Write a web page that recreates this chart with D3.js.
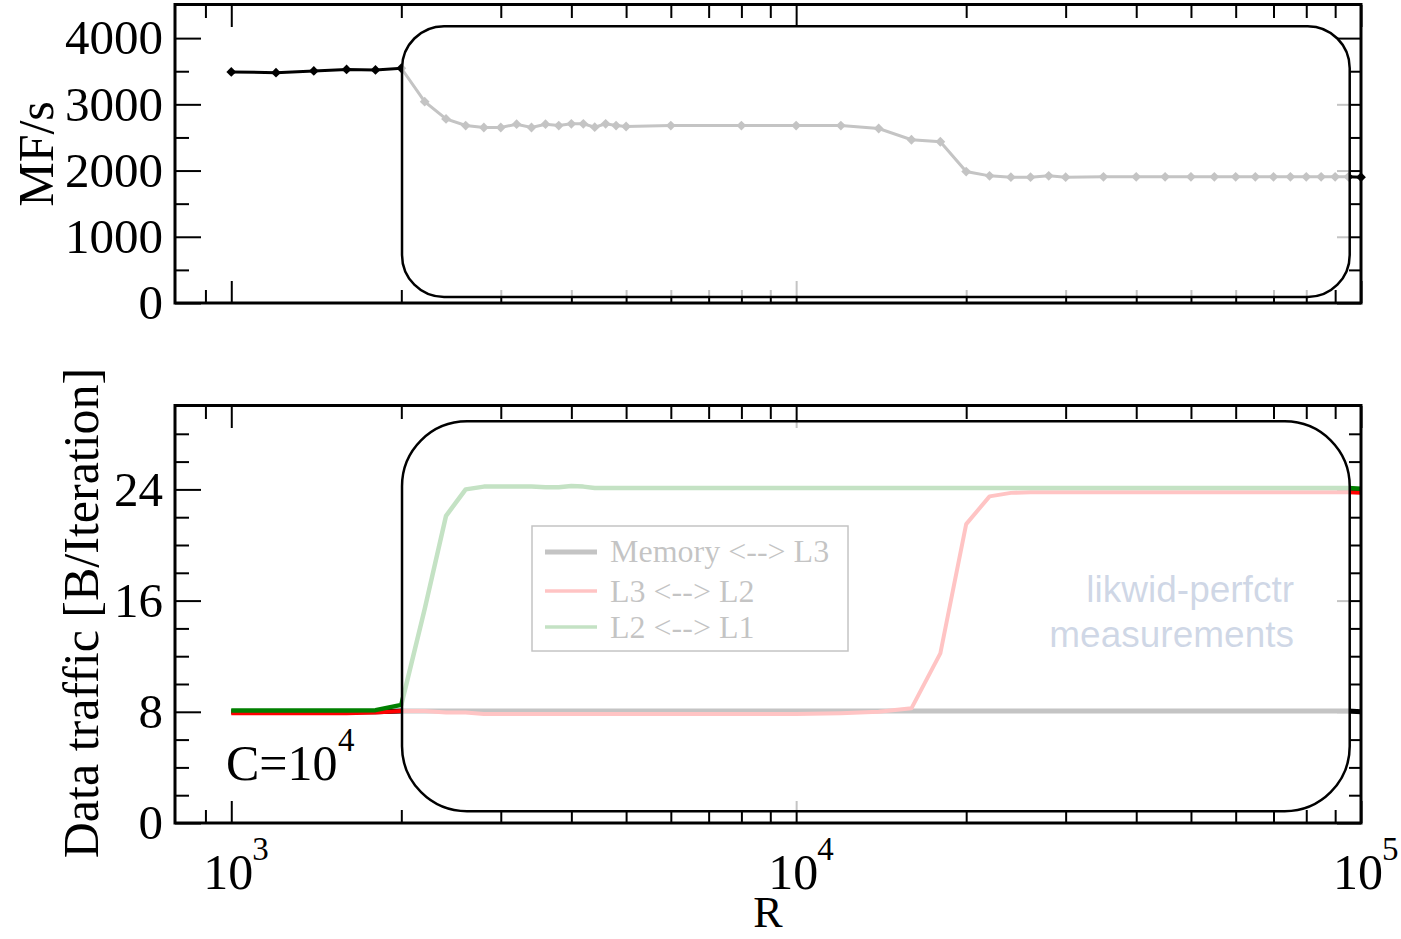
<!DOCTYPE html>
<html>
<head>
<meta charset="utf-8">
<script src="https://cdn.jsdelivr.net/npm/d3@7"></script>
<style>
  html, body { margin: 0; padding: 0; background: #fff; }
  svg { display: block; }
  text { font-family: "Liberation Serif", "Times New Roman", serif; }
</style>
</head>
<body>
<svg id="chart" width="1401" height="939"></svg>
<script>
// Problem size R (outer loop length), sampled points
const R = [1000, 1200, 1400, 1600, 1800, 2000, 2200, 2400, 2600, 2800, 3000, 3200,
  3400, 3600, 3800, 4000, 4200, 4400, 4600, 4800, 5000, 6000, 8000, 10000, 12000,
  14000, 16000, 18000, 20000, 22000, 24000, 26000, 28000, 30000, 35000, 40000, 45000,
  50000, 55000, 60000, 65000, 70000, 75000, 80000, 85000, 90000, 95000, 100000];

// Performance in MFlop/s
const mflops = [3490, 3478, 3505, 3527, 3520, 3545, 3040, 2780, 2680, 2650, 2650, 2700,
  2650, 2700, 2680, 2705, 2705, 2655, 2705, 2680, 2665, 2680, 2680, 2680, 2680,
  2635, 2465, 2435, 1985, 1920, 1900, 1900, 1920, 1900, 1905, 1905, 1905,
  1905, 1905, 1905, 1905, 1905, 1905, 1905, 1905, 1905, 1905, 1900];

// Data traffic per iteration in bytes
const memL3 = [8.0, 8.0, 8.0, 8.0, 8.0, 8.05, 8.05, 8.05, 8.05, 8.05, 8.05, 8.05,
  8.05, 8.05, 8.05, 8.05, 8.05, 8.05, 8.05, 8.05, 8.05, 8.05, 8.05, 8.05, 8.05,
  8.05, 8.05, 8.05, 8.05, 8.05, 8.05, 8.05, 8.05, 8.05, 8.05, 8.05, 8.05,
  8.05, 8.05, 8.05, 8.05, 8.05, 8.05, 8.05, 8.05, 8.05, 8.05, 8.0];
const l3L2 = [7.9, 7.9, 7.9, 7.9, 7.95, 8.05, 8.05, 7.95, 7.95, 7.85, 7.85, 7.85,
  7.85, 7.85, 7.85, 7.85, 7.85, 7.85, 7.85, 7.85, 7.85, 7.85, 7.85, 7.85, 7.9,
  8.0, 8.25, 12.2, 21.5, 23.5, 23.75, 23.8, 23.8, 23.8, 23.8, 23.8, 23.8,
  23.8, 23.8, 23.8, 23.8, 23.8, 23.8, 23.8, 23.8, 23.8, 23.8, 23.75];
const l2L1 = [8.1, 8.1, 8.1, 8.1, 8.12, 8.5, 15.4, 22.1, 24.0, 24.2, 24.2, 24.2,
  24.2, 24.15, 24.15, 24.25, 24.2, 24.1, 24.1, 24.1, 24.1, 24.1, 24.1, 24.1, 24.1,
  24.1, 24.1, 24.1, 24.1, 24.1, 24.1, 24.1, 24.1, 24.1, 24.1, 24.1, 24.1,
  24.1, 24.1, 24.1, 24.1, 24.1, 24.1, 24.1, 24.1, 24.1, 24.1, 24.05];

const trafficNames = ["Memory <--> L3", "L3 <--> L2", "L2 <--> L1"];

// Tick values
const topYMajor = [0, 1000, 2000, 3000, 4000];
const topYMinor = [500, 1500, 2500, 3500];
const botYMajor = [0, 8, 16, 24];
const botYMinor = [2, 4, 6, 10, 12, 14, 18, 20, 22, 26, 28];
const xMajor = [1000, 10000, 100000];
const xExponents = ["3", "4", "5"];

// ---------------------------------------------------------------
const svg = d3.select("#chart");
svg.append("rect").attr("width", 1401).attr("height", 939).attr("fill", "#fff");

const x = d3.scaleLog().domain([795, 100000]).range([175, 1361]);
const xMinor = x.ticks().filter(v => v > 850 && !xMajor.includes(v));

const yTop = d3.scaleLinear().domain([0, 4500]).range([303, 5]);
const yBot = d3.scaleLinear().domain([0, 30]).range([823, 406]);

const panels = [
  { y: yTop, major: topYMajor, minor: topYMinor },
  { y: yBot, major: botYMajor, minor: botYMinor }
];

function styleAxis(g) {
  g.select(".domain").remove();
  g.selectAll(".tick line").attr("stroke", "#000").attr("stroke-width", 2);
  g.selectAll(".tick text").attr("font-family", "Liberation Serif, Times New Roman, serif")
    .attr("font-size", 49).attr("fill", "#000");
}

function drawTicks(p) {
  const [y0, y1] = p.y.range();
  const g = svg.append("g");
  // left (labelled)
  g.append("g").attr("transform", `translate(175,0)`)
    .call(d3.axisLeft(p.y).tickValues(p.major).tickSize(-26).tickPadding(12)
      .tickFormat(d3.format("d")))
    .call(styleAxis);
  g.append("g").attr("transform", `translate(175,0)`)
    .call(d3.axisLeft(p.y).tickValues(p.minor).tickSize(-14).tickFormat(""))
    .call(styleAxis);
  // right
  g.append("g").attr("transform", `translate(1361,0)`)
    .call(d3.axisRight(p.y).tickValues(p.major).tickSize(-24).tickFormat(""))
    .call(styleAxis);
  g.append("g").attr("transform", `translate(1361,0)`)
    .call(d3.axisRight(p.y).tickValues(p.minor).tickSize(-12).tickFormat(""))
    .call(styleAxis);
  // bottom
  g.append("g").attr("transform", `translate(0,${y0})`)
    .call(d3.axisBottom(x).tickValues(xMajor).tickSize(-22).tickFormat(""))
    .call(styleAxis);
  g.append("g").attr("transform", `translate(0,${y0})`)
    .call(d3.axisBottom(x).tickValues(xMinor).tickSize(-13).tickFormat(""))
    .call(styleAxis);
  // top
  g.append("g").attr("transform", `translate(0,${y1})`)
    .call(d3.axisTop(x).tickValues(xMajor).tickSize(-22).tickFormat(""))
    .call(styleAxis);
  g.append("g").attr("transform", `translate(0,${y1})`)
    .call(d3.axisTop(x).tickValues(xMinor).tickSize(-13).tickFormat(""))
    .call(styleAxis);
}

panels.forEach(p => drawTicks(p));

// ---------------- top panel: performance ----------------
const perf = R.map((r, i) => ({ r, v: mflops[i] }));
const lineTop = d3.line().x(d => x(d.r)).y(d => yTop(d.v));
svg.append("path").datum(perf).attr("d", lineTop)
  .attr("fill", "none").attr("stroke", "#000").attr("stroke-width", 3);
svg.append("g").selectAll("path").data(perf).join("path")
  .attr("d", d3.symbol(d3.symbolSquare, 48))
  .attr("transform", d => `translate(${x(d.r)},${yTop(d.v)}) rotate(45)`)
  .attr("fill", "#000");

// ---------------- bottom panel: data traffic ----------------
const trafficSeries = [
  { name: trafficNames[0], values: memL3, color: "#000000", width: 5 },
  { name: trafficNames[1], values: l3L2, color: "#ff0000", width: 4 },
  { name: trafficNames[2], values: l2L1, color: "#008000", width: 4.5 }
];
const lineBot = d3.line().x(d => x(d.r)).y(d => yBot(d.v));
svg.append("g").selectAll("path").data(trafficSeries).join("path")
  .attr("d", s => lineBot(R.map((r, i) => ({ r, v: s.values[i] }))))
  .attr("fill", "none")
  .attr("stroke", s => s.color)
  .attr("stroke-width", s => s.width)
  .attr("stroke-linejoin", "round");

// legend
const legend = svg.append("g");
legend.append("rect").attr("x", 532).attr("y", 526).attr("width", 316).attr("height", 125)
  .attr("fill", "none").attr("stroke", "#000").attr("stroke-width", 1.5);
const legendRows = [
  { lineY: 552, textY: 562 },
  { lineY: 591, textY: 602 },
  { lineY: 627, textY: 638 }
];
trafficSeries.forEach((s, i) => {
  legend.append("line").attr("x1", 545).attr("x2", 597)
    .attr("y1", legendRows[i].lineY).attr("y2", legendRows[i].lineY)
    .attr("stroke", s.color).attr("stroke-width", i === 0 ? 5 : 3.5);
  legend.append("text").attr("x", 610).attr("y", legendRows[i].textY)
    .attr("font-size", 32).attr("fill", "#000").text(s.name);
});

// measurement tool note
const note = svg.append("g").attr("font-size", 37).attr("fill", "#335592")
  .attr("text-anchor", "end");
note.append("text").attr("x", 1294).attr("y", 602)
  .style("font-family", "Liberation Sans, Arial, sans-serif").text("likwid-perfctr");
note.append("text").attr("x", 1294).attr("y", 647)
  .style("font-family", "Liberation Sans, Arial, sans-serif").text("measurements");

// ---------------- highlight boxes (fade the region they enclose) ----------------
const boxes = [
  { y: yTop, r0: 2000, r1: 95500, v0: 90, v1: 4180, radius: 42 },
  { y: yBot, r0: 2000, r1: 95500, v0: 0.85, v1: 28.9, radius: 65 }
];
boxes.forEach(b => {
  const x0 = x(b.r0) + 0.7, x1 = x(b.r1);
  const top = b.y(b.v1), bottom = b.y(b.v0);
  svg.append("rect")
    .attr("x", x0).attr("y", top)
    .attr("width", x1 - x0).attr("height", bottom - top)
    .attr("rx", b.radius).attr("ry", b.radius)
    .attr("fill", "#fff").attr("fill-opacity", 0.77)
    .attr("stroke", "#000").attr("stroke-width", 2.5);
});

// ---------------- frames ----------------
panels.forEach(p => {
  const [y0, y1] = p.y.range();
  svg.append("rect").attr("x", 175).attr("y", y1 - 0.5)
    .attr("width", 1361 - 175).attr("height", y0 - y1 + 0.5)
    .attr("fill", "none").attr("stroke", "#000").attr("stroke-width", 3);
});

// x tick labels with exponents
const xl = svg.append("g").attr("fill", "#000");
xMajor.forEach((v, i) => {
  xl.append("text").attr("x", x(v) - 3).attr("y", 889)
    .attr("text-anchor", "middle").attr("font-size", 50).text("10");
  xl.append("text").attr("x", x(v) + 21).attr("y", 860)
    .attr("font-size", 33).text(xExponents[i]);
});

// axis titles
svg.append("text").attr("x", 768).attr("y", 927).attr("text-anchor", "middle")
  .attr("font-size", 44).text("R");
svg.append("text").attr("transform", "translate(53,154) rotate(-90)")
  .attr("text-anchor", "middle").attr("font-size", 50).text("MF/s");
svg.append("text").attr("transform", "translate(98,613) rotate(-90)")
  .attr("text-anchor", "middle").attr("font-size", 50).text("Data traffic [B/Iteration]");

// problem size annotation
svg.append("text").attr("x", 226).attr("y", 780).attr("font-size", 50).text("C=10");
svg.append("text").attr("x", 338).attr("y", 751).attr("font-size", 33).text("4");
</script>
</body>
</html>
